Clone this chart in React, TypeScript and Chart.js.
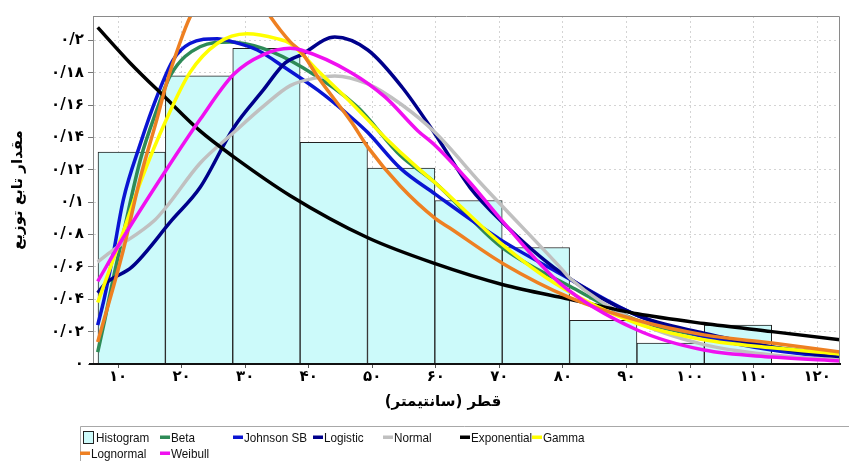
import React, { useEffect, useRef } from "react";
import { Chart, registerables } from "chart.js";

Chart.register(...registerables);

// ---- axis ticks / titles ----
const xTickValues = [10, 20, 30, 40, 50, 60, 70, 80, 90, 100, 110, 120];
const xTickLabels = ["۱۰", "۲۰", "۳۰", "۴۰", "۵۰", "۶۰", "۷۰", "۸۰", "۹۰", "۱۰۰", "۱۱۰", "۱۲۰"];
const yTickValues = [0, 0.02, 0.04, 0.06, 0.08, 0.1, 0.12, 0.14, 0.16, 0.18, 0.2];
const yTickLabels = ["۰", "۰/۰۲", "۰/۰۴", "۰/۰۶", "۰/۰۸", "۰/۱", "۰/۱۲", "۰/۱۴", "۰/۱۶", "۰/۱۸", "۰/۲"];
const xTitle = "قطر (سانتیمتر)";
const yTitle = "مقدار تابع توزیع";
const xMin = 6.06;
const xMax = 123.6;
const yMax = 0.215;

// ---- histogram ----
const binCenters = [12.15, 22.75, 33.35, 43.95, 54.55, 65.15, 75.75, 86.35, 96.95, 107.55];
const histValues = [0.131, 0.178, 0.195, 0.137, 0.121, 0.101, 0.072, 0.027, 0.013, 0.024];

// ---- fitted curves ----
const betaX = [6.8, 7.9, 9.2, 10.8, 13.5, 16.1, 18.2, 22.9, 27.6, 32.8, 39.1, 47.6, 54.4, 59.9, 70.1, 81.1, 91.7, 102.2, 112.9, 123.6];
const betaY = [0.0074, 0.027, 0.052, 0.08, 0.126, 0.157, 0.178, 0.196, 0.199, 0.195, 0.183, 0.159, 0.129, 0.112, 0.073, 0.048, 0.027, 0.017, 0.0105, 0.0056];

const johnsonX = [6.8, 7.8, 9.2, 10.8, 13.5, 16.1, 18.7, 21.3, 25.6, 28.1, 31.9, 36.3, 41.5, 46.8, 49.3, 54.4, 59.9, 70.1, 79.5, 91.7, 102.2, 112.9, 123.6];
const johnsonY = [0.024, 0.04, 0.067, 0.101, 0.136, 0.165, 0.188, 0.198, 0.201, 0.199, 0.194, 0.183, 0.169, 0.152, 0.143, 0.121, 0.105, 0.077, 0.056, 0.03, 0.017, 0.0086, 0.0037];

const logisticX = [6.8, 8.1, 12.2, 18.5, 22.9, 28.2, 32.8, 36.3, 38.8, 44.1, 49.3, 54.7, 59.9, 65.4, 70.1, 79.5, 91.7, 102.2, 112.9, 123.6];
const logisticY = [0.044, 0.05, 0.06, 0.089, 0.109, 0.146, 0.169, 0.186, 0.191, 0.202, 0.194, 0.171, 0.142, 0.109, 0.089, 0.057, 0.03, 0.019, 0.0105, 0.0037];

const normalX = [6.8, 9.1, 15.8, 17.6, 22.9, 28.2, 32.8, 37.1, 41.5, 44.1, 49.3, 54.7, 59.9, 67.0, 70.1, 79.5, 81.1, 91.7, 102.2, 112.9, 123.6];
const normalY = [0.063, 0.07, 0.089, 0.097, 0.124, 0.143, 0.159, 0.172, 0.177, 0.178, 0.173, 0.16, 0.143, 0.112, 0.099, 0.06, 0.053, 0.026, 0.012, 0.0056, 0.0025];

const exponentialX = [6.8, 11.9, 17.6, 22.9, 28.2, 37.1, 49.3, 59.9, 70.6, 81.1, 91.7, 102.2, 112.9, 123.6];
const exponentialY = [0.208, 0.186, 0.164, 0.144, 0.128, 0.104, 0.078, 0.062, 0.049, 0.04, 0.031, 0.025, 0.02, 0.015];

const gammaX = [6.8, 10.8, 13.5, 17.6, 21.3, 25.6, 30.3, 35.0, 37.1, 41.5, 46.8, 52.0, 57.2, 59.9, 70.1, 79.5, 91.7, 102.2, 112.9, 123.6];
const gammaY = [0.038, 0.0815, 0.112, 0.151, 0.18, 0.198, 0.204, 0.201, 0.198, 0.181, 0.161, 0.14, 0.121, 0.112, 0.075, 0.048, 0.025, 0.015, 0.01, 0.0062];

const lognormalX = [6.8, 10.8, 13.5, 16.1, 17.6, 19.7, 21.3, 23.7, 27.6, 31.5, 33.9, 37.1, 38.8, 41.5, 46.8, 49.3, 54.4, 59.9, 62.2, 70.6, 81.1, 91.7, 102.2, 112.9, 123.6];
const lognormalY = [0.0136, 0.07, 0.115, 0.151, 0.173, 0.198, 0.214, 0.23, 0.236, 0.23, 0.215, 0.199, 0.193, 0.177, 0.149, 0.134, 0.11, 0.09, 0.084, 0.062, 0.041, 0.027, 0.018, 0.013, 0.0074];

const weibullX = [6.8, 10.8, 17.6, 22.9, 28.2, 32.8, 37.1, 38.8, 46.7, 52.0, 57.2, 59.9, 65.4, 70.1, 79.5, 91.7, 102.2, 112.9, 123.6];
const weibullY = [0.051, 0.078, 0.12, 0.151, 0.179, 0.191, 0.195, 0.194, 0.18, 0.165, 0.144, 0.135, 0.112, 0.09, 0.05, 0.021, 0.0086, 0.0043, 0.0019];

const persianFont = '"DejaVu Sans", sans-serif';

function curve(label: string, color: string, xs: number[], ys: number[], order: number) {
  return {
    type: "line" as const,
    label,
    data: xs.map((x, i) => ({ x, y: ys[i] })),
    borderColor: color,
    backgroundColor: color,
    borderWidth: 3.5,
    pointRadius: 0,
    pointHoverRadius: 0,
    cubicInterpolationMode: "monotone" as const,
    fill: false,
    order,
  };
}

const decorPlugin = {
  id: "decor",
  afterDatasetsDraw(chart: any) {
    const { ctx, chartArea } = chart;
    ctx.save();
    // plot frame (left, top, right)
    ctx.strokeStyle = "#8a8a8a";
    ctx.lineWidth = 1;
    ctx.beginPath();
    ctx.moveTo(chartArea.left + 0.5, chartArea.bottom);
    ctx.lineTo(chartArea.left + 0.5, chartArea.top + 0.5);
    ctx.lineTo(chartArea.right - 0.5, chartArea.top + 0.5);
    ctx.lineTo(chartArea.right - 0.5, chartArea.bottom);
    ctx.stroke();
    // bottom axis line
    ctx.strokeStyle = "#111";
    ctx.lineWidth = 2;
    ctx.beginPath();
    ctx.moveTo(chartArea.left - 4, chartArea.bottom);
    ctx.lineTo(chartArea.right, chartArea.bottom);
    ctx.stroke();
    ctx.restore();
  },
  afterDraw(chart: any) {
    const { ctx } = chart;
    ctx.save();
    // x axis title
    ctx.font = `bold 15px ${persianFont}`;
    ctx.fillStyle = "#000";
    ctx.textAlign = "center";
    ctx.textBaseline = "middle";
    (ctx as any).direction = "rtl";
    ctx.fillText(xTitle, 443, 402);
    (ctx as any).direction = "ltr";

    // legend frame
    ctx.strokeStyle = "#a8a8a8";
    ctx.lineWidth = 1;
    ctx.beginPath();
    ctx.moveTo(80.5, 461);
    ctx.lineTo(80.5, 426.5);
    ctx.lineTo(849, 426.5);
    ctx.stroke();

    const slots = [
      [83, 437], [160, 437], [233, 437], [313, 437], [383, 437], [460, 437], [532, 437],
      [80, 453], [160, 453],
    ];
    ctx.font = '13px "Liberation Sans", Arial, sans-serif';
    ctx.textAlign = "left";
    ctx.textBaseline = "middle";
    chart.data.datasets.forEach((ds: any, i: number) => {
      const s = slots[i];
      if (!s) return;
      const [x, y] = s;
      const w = ctx.measureText(ds.label).width * 0.9;
      if (ds.type === "bar") {
        ctx.fillStyle = ds.backgroundColor;
        ctx.fillRect(x, y - 6, 10, 12);
        ctx.strokeStyle = "#222";
        ctx.lineWidth = 1;
        ctx.strokeRect(x + 0.5, y - 5.5, 10, 12);
        ctx.fillStyle = "#111";
        ctx.fillText(ds.label, x + 13, y + 1, w);
      } else {
        ctx.fillStyle = ds.borderColor;
        ctx.fillRect(x, y - 1.5, 10, 3.5);
        ctx.fillStyle = "#111";
        ctx.fillText(ds.label, x + 11, y + 1, w);
      }
    });
    ctx.restore();
  },
};

export default function App() {
  const canvasRef = useRef<HTMLCanvasElement | null>(null);

  useEffect(() => {
    const canvas = canvasRef.current;
    if (!canvas) return;
    const datasets: any[] = [
      {
        type: "bar",
        label: "Histogram",
        data: binCenters.map((x, i) => ({ x, y: histValues[i] })),
        backgroundColor: "#ccfafa",
        borderColor: "#222",
        borderWidth: 1,
        barThickness: "flex",
        barPercentage: 1,
        categoryPercentage: 1,
        order: 10,
      },
      curve("Beta", "#2e8b57", betaX, betaY, 8),
      curve("Johnson SB", "#0a14d2", johnsonX, johnsonY, 7),
      curve("Logistic", "#00008b", logisticX, logisticY, 6),
      curve("Normal", "#c0c0c0", normalX, normalY, 5),
      curve("Exponential", "#000000", exponentialX, exponentialY, 4),
      curve("Gamma", "#ffff00", gammaX, gammaY, 3),
      curve("Lognormal", "#ee8022", lognormalX, lognormalY, 2),
      curve("Weibull", "#f010f0", weibullX, weibullY, 1),
    ];

    const chart = new Chart(canvas, {
      type: "line",
      data: { datasets },
      options: {
        responsive: false,
        animation: false,
        events: [],
        layout: { padding: { left: 0, right: 9, top: 16, bottom: 0 } },
        plugins: {
          legend: { display: false },
          tooltip: { enabled: false },
        },
        scales: {
          x: {
            type: "linear",
            min: xMin,
            max: xMax,
            offset: false,
            afterBuildTicks: (s: any) => {
              s.ticks = xTickValues.map((v) => ({ value: v }));
            },
            afterFit: (s: any) => {
              s.height = 97;
            },
            ticks: {
              callback: (_v: any, i: number) => xTickLabels[i] ?? "",
              font: { family: persianFont, size: 15, weight: "bold" },
              color: "#000",
              autoSkip: false,
              maxRotation: 0,
              padding: 0,
            },
            grid: {
              color: "#d4d4d4",
              lineWidth: 1,
              drawTicks: true,
              tickLength: 4,
              tickColor: "#555",
              offset: false,
            },
            border: { display: true, color: "#111", width: 2, dash: [2, 3] },
          },
          y: {
            type: "linear",
            min: 0,
            max: yMax,
            afterBuildTicks: (s: any) => {
              s.ticks = yTickValues.map((v) => ({ value: v }));
            },
            afterFit: (s: any) => {
              s.width = 93;
            },
            ticks: {
              callback: (_v: any, i: number) => yTickLabels[i] ?? "",
              font: { family: persianFont, size: 15, weight: "bold" },
              color: "#000",
              padding: 4,
            },
            grid: {
              color: "#d4d4d4",
              lineWidth: 1,
              drawTicks: true,
              tickLength: 5,
              tickColor: "#777",
            },
            border: { display: true, color: "#8a8a8a", width: 1, dash: [2, 3] },
            title: {
              display: true,
              text: yTitle,
              font: { family: persianFont, size: 15, weight: "bold" },
              color: "#000",
              padding: { top: 9, bottom: 0 },
            },
          },
        },
      } as any,
      plugins: [decorPlugin],
    });

    return () => {
      chart.destroy();
    };
  }, []);

  return (
    <div style={{ position: "absolute", left: 0, top: 0, width: 849, height: 461, background: "#fff" }}>
      <canvas ref={canvasRef} width={849} height={461} style={{ display: "block", width: 849, height: 461 }} />
    </div>
  );
}
